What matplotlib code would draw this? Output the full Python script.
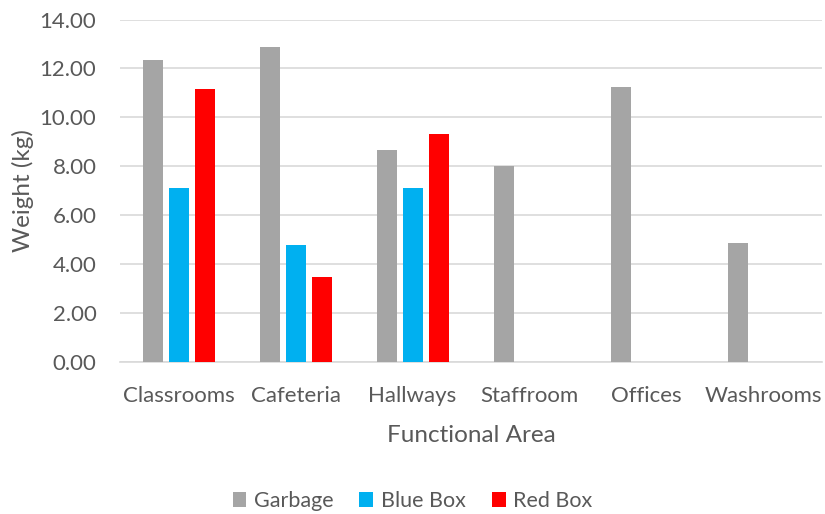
import numpy as np
import matplotlib.pyplot as plt

plt.rcParams['font.family'] = ['Lato', 'DejaVu Sans']

areas = ['Classrooms', 'Cafeteria', 'Hallways', 'Staffroom', 'Offices', 'Washrooms']
garbage = [12.34, 12.86, 8.66, 8.01, 11.24, 4.86]
blue_box = [7.11, 4.79, 7.10, 0, 0, 0]
red_box = [11.14, 3.48, 9.32, 0, 0, 0]
yticks = [0, 2, 4, 6, 8, 10, 12, 14]

txt = '#595959'
grid = '#d9d9d9'

fig = plt.figure(figsize=(8.25, 5.14), dpi=100)
ax = fig.add_axes([0.1455, 0.2957, 0.851, 0.6663])

x = np.arange(len(areas))
w = 0.171
step = 0.222
ax.bar(x - step, garbage, w, color='#a5a5a5', label='Garbage', zorder=3)
ax.bar(x, blue_box, w, color='#00b0f0', label='Blue Box', zorder=3)
ax.bar(x + step, red_box, w, color='#ff0000', label='Red Box', zorder=3)

ax.set_xlim(-0.5, len(areas) - 0.5)
ax.set_ylim(0, 14)
ax.set_yticks(yticks)
ax.set_yticklabels(['%.2f' % v for v in yticks])
ax.set_xticks(x)
ax.set_xticklabels(areas)
ax.tick_params(length=0, colors=txt, labelsize=16)
ax.tick_params(axis='x', pad=17)
ax.tick_params(axis='y', pad=17)
ax.yaxis.grid(True, color=grid, linewidth=1.2, zorder=0)
for s in ['top', 'right', 'left']:
    ax.spines[s].set_visible(False)
ax.spines['bottom'].set_color(grid)
ax.spines['bottom'].set_linewidth(1.2)

ax.set_xlabel('Functional Area', color=txt, fontsize=17.5, labelpad=14)
ax.set_ylabel('Weight (kg)', color=txt, fontsize=17.5, labelpad=4)

fig.legend(loc='center', bbox_to_anchor=(0.5, 0.025), ncol=3, frameon=False,
           fontsize=15.5, labelcolor=txt, handlelength=0.65, handleheight=0.65,
           handletextpad=0.35, columnspacing=1.2)

plt.savefig('out.png', dpi=100)
